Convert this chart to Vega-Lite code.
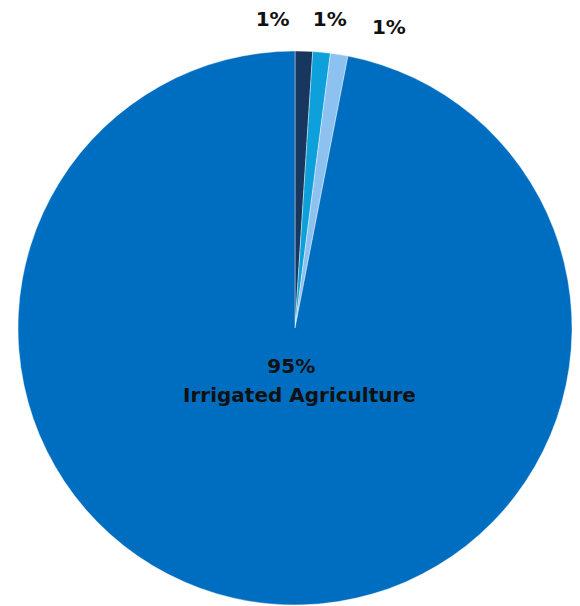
{
  "$schema": "https://vega.github.io/schema/vega-lite/v6.json",
  "width": 560,
  "height": 560,
  "autosize": "none",
  "padding": {"left": 15, "top": 48, "right": 5, "bottom": 0},
  "background": "white",
  "config": {"view": {"stroke": null}},
  "data": {
    "values": [
      {"cat": "Category A", "value": 1, "rank": 1, "label": "1%"},
      {"cat": "Category B", "value": 1, "rank": 2, "label": "1%"},
      {"cat": "Category C", "value": 1, "rank": 3, "label": "1%"},
      {"cat": "Irrigated Agriculture", "value": 95, "rank": 4, "label": "95%"}
    ]
  },
  "encoding": {
    "theta": {"field": "value", "type": "quantitative", "stack": true},
    "order": {"field": "rank", "type": "quantitative"}
  },
  "layer": [
    {
      "mark": {"type": "arc", "outerRadius": 277, "stroke": "white", "strokeWidth": 0.4},
      "encoding": {
        "color": {
          "field": "cat",
          "type": "nominal",
          "scale": {
            "domain": ["Category A", "Category B", "Category C", "Irrigated Agriculture"],
            "range": ["#17375E", "#0EA0DA", "#8DC1F0", "#006EC0"]
          },
          "legend": null
        }
      }
    },
    {
      "mark": {"type": "text", "radius": 300, "dx": -32, "dy": -8, "font": "DejaVu Sans", "fontWeight": "bold", "fontSize": 20, "fill": "#111111"},
      "encoding": {"text": {"condition": {"test": "datum.rank === 1", "field": "label"}, "value": ""}}
    },
    {
      "mark": {"type": "text", "radius": 300, "dx": 6, "dy": -9, "font": "DejaVu Sans", "fontWeight": "bold", "fontSize": 20, "fill": "#111111"},
      "encoding": {"text": {"condition": {"test": "datum.rank === 2", "field": "label"}, "value": ""}}
    },
    {
      "mark": {"type": "text", "radius": 300, "dx": 46, "dy": -4, "font": "DejaVu Sans", "fontWeight": "bold", "fontSize": 20, "fill": "#111111"},
      "encoding": {"text": {"condition": {"test": "datum.rank === 3", "field": "label"}, "value": ""}}
    },
    {
      "mark": {"type": "text", "radius": 39, "font": "DejaVu Sans", "fontWeight": "bold", "fontSize": 20, "fill": "#111111"},
      "encoding": {"text": {"condition": {"test": "datum.rank === 4", "field": "label"}, "value": ""}}
    },
    {
      "mark": {"type": "text", "radius": 68, "dx": 11, "font": "DejaVu Sans", "fontWeight": "bold", "fontSize": 20, "fill": "#111111"},
      "encoding": {"text": {"condition": {"test": "datum.rank === 4", "field": "cat"}, "value": ""}}
    }
  ]
}
